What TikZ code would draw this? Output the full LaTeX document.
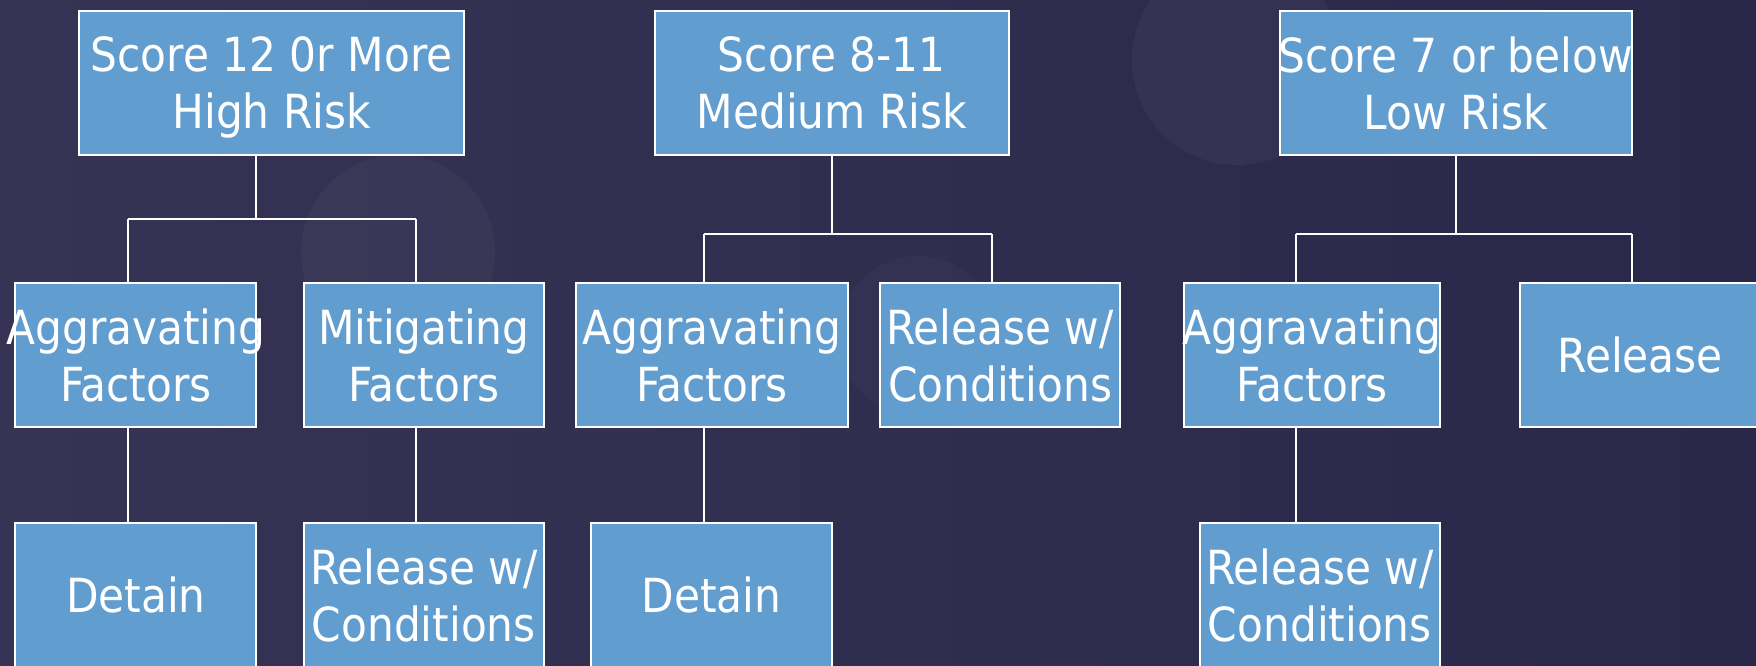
\documentclass[tikz,border=0pt]{standalone}
\usepackage{fontspec}
\setmainfont{DejaVu Sans}[FakeStretch=0.9]
\begin{document}
\begin{tikzpicture}[x=1pt,y=-1pt,
  boxfill/.style={fill=boxblue,draw=white,line width=2pt,inner sep=0pt,outer sep=0pt,
    minimum height=144.4pt},
  txt/.style={text=white,align=center,inner sep=0pt,text depth=0pt,
    font=\fontsize{47}{57}\selectfont},
  conn/.style={draw=white,line width=2pt}]
\definecolor{boxblue}{HTML}{629DD0}
\definecolor{bgL}{HTML}{363354}
\definecolor{bgR}{HTML}{2A284A}
\useasboundingbox (0,0) rectangle (1756,666);
\clip (0,0) rectangle (1756,666);
\shade[left color=bgL,right color=bgR] (0,0) rectangle (1756,666);
% faint background circles
\fill[white,opacity=0.035] (1237,60) circle (105);
\fill[white,opacity=0.03] (398,252) circle (97);
\fill[white,opacity=0.02] (918,336) circle (80);

% bus coordinates
\coordinate (b1) at (255.6,218.8);
\coordinate (b1l) at (128.2,218.8);
\coordinate (b1r) at (416,218.8);
\coordinate (b2) at (831.7,234);
\coordinate (b2l) at (703.8,234);
\coordinate (b2r) at (992,234);
\coordinate (b3) at (1455.6,234);
\coordinate (b3l) at (1295.7,234);
\coordinate (b3r) at (1631.9,234);

% boxes
\node[boxfill,minimum width=385pt] (T1) at (271.7,82.8) {};
\node[boxfill,minimum width=353.3pt] (T2) at (831.85,82.8) {};
\node[boxfill,minimum width=352.9pt] (T3) at (1455.95,82.8) {};

\node[boxfill,minimum width=241.1pt] (A1) at (135.85,354.8) {};
\node[boxfill,minimum width=240.7pt] (M1) at (423.85,354.8) {};
\node[boxfill,minimum width=272.5pt] (A2) at (711.85,354.8) {};
\node[boxfill,minimum width=240.3pt] (RW2) at (1000.05,354.8) {};
\node[boxfill,minimum width=256.6pt] (A3) at (1311.9,354.8) {};
\node[boxfill,minimum width=240.6pt] (RL3) at (1640.2,354.8) {};

\node[boxfill,minimum width=241.1pt] (D1) at (135.85,594.8) {};
\node[boxfill,minimum width=240.7pt] (RW1) at (423.85,594.8) {};
\node[boxfill,minimum width=240.7pt] (D2) at (711.65,594.8) {};
\node[boxfill,minimum width=240.7pt] (RW3) at (1319.85,594.8) {};

% connectors
\draw[conn] (T1.south -| b1) -- (b1);
\draw[conn] (b1l) -- (b1r);
\draw[conn] (b1l) -- (A1.north -| b1l);
\draw[conn] (b1r) -- (M1.north -| b1r);
\draw[conn] (A1.south -| b1l) -- (D1.north -| b1l);
\draw[conn] (M1.south -| b1r) -- (RW1.north -| b1r);

\draw[conn] (T2.south -| b2) -- (b2);
\draw[conn] (b2l) -- (b2r);
\draw[conn] (b2l) -- (A2.north -| b2l);
\draw[conn] (b2r) -- (RW2.north -| b2r);
\draw[conn] (A2.south -| b2l) -- (D2.north -| b2l);

\draw[conn] (T3.south -| b3) -- (b3);
\draw[conn] (b3l) -- (b3r);
\draw[conn] (b3l) -- (A3.north -| b3l);
\draw[conn] (b3r) -- (RL3.north -| b3r);
\draw[conn] (A3.south -| b3l) -- (RW3.north -| b3l);

% texts
\node[txt] (tT1) at (T1) {Score 12 0r More\\High Risk};
\node[txt] (tT2) at (T2) {Score 8-11\\Medium Risk};
\node[txt] (tT3) at (T3) {Score 7 or below\\Low Risk};
\node[txt] (tA1) at (A1) {Aggravating\\Factors};
\node[txt] (tM1) at (M1) {Mitigating\\Factors};
\node[txt] (tA2) at (A2) {Aggravating\\Factors};
\node[txt] (tRW2) at (RW2) {Release w/\\Conditions};
\node[txt] (tA3) at (A3) {Aggravating\\Factors};
\node[txt] (tRL3) at (RL3) {Release};
\node[txt] (tD1) at (D1) {Detain};
\node[txt] (tRW1) at (RW1) {Release w/\\Conditions};
\node[txt] (tD2) at (D2) {Detain};
\node[txt] (tRW3) at (RW3) {Release w/\\Conditions};
\end{tikzpicture}
\end{document}
